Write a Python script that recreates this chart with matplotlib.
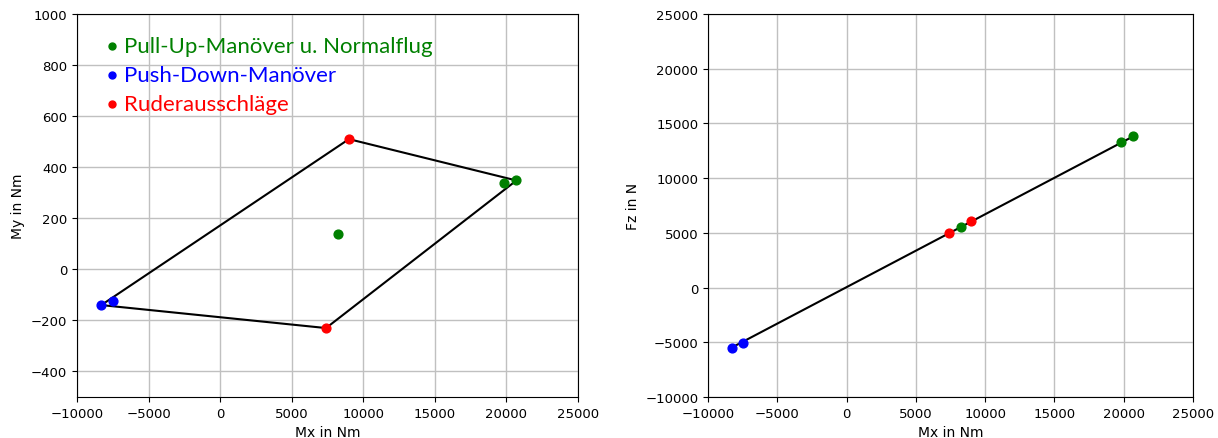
import matplotlib
matplotlib.use('Agg')
import matplotlib.pyplot as plt

# data
# green: pull-up / normal flight
green_mx = [8250, 19800, 20700]
green_my = [140, 338, 348]
green_fz = [5490, 13280, 13830]
# blue: push-down
blue_mx = [-8300, -7500]
blue_my = [-140, -125]
blue_fz = [-5490, -5040]
# red: rudder deflections
red_mx = [7400, 9000]
red_my = [-230, 510]
red_fz = [4950, 6040]

# envelope corners (left plot) and line ends (right plot)
hull_mx = [-8300, 9000, 20700, 7400, -8300]
hull_my = [-140, 510, 348, -230, -140]
line_mx = [-8300, 20700]
line_fz = [-5490, 13830]

legend_labels = ['Pull-Up-Manöver u. Normalflug', 'Push-Down-Manöver', 'Ruderausschläge']
legend_colors = ['green', 'blue', 'red']

fig = plt.figure(figsize=(12.18, 4.39), dpi=100)
ax1 = fig.add_axes([0.0632, 0.0934, 0.4113, 0.8724])
ax2 = fig.add_axes([0.5813, 0.0934, 0.3982, 0.8724])

# left: Mx vs My
ax1.plot(hull_mx, hull_my, color='black', lw=1.5, zorder=2)
ax1.scatter(green_mx, green_my, color='green', s=40, zorder=3)
ax1.scatter(blue_mx, blue_my, color='blue', s=40, zorder=3)
ax1.scatter(red_mx, red_my, color='red', s=40, zorder=3)
ax1.set_xlim(-10000, 25000)
ax1.set_ylim(-500, 1000)
ax1.set_yticks([-400, -200, 0, 200, 400, 600, 800, 1000])
ax1.set_xlabel('Mx in Nm')
ax1.set_ylabel('My in Nm')
ax1.grid(True, color='#c0c0c0', lw=1)
ax1.set_axisbelow(True)

# legend as coloured text lines
for i, (lab, col) in enumerate(zip(legend_labels, legend_colors)):
    yy = 0.916 - i * 0.076
    ax1.plot(0.07, yy, 'o', color=col, ms=5, transform=ax1.transAxes, clip_on=False)
    ax1.text(0.094, yy, lab, color=col, fontsize=16, family='Lato', transform=ax1.transAxes, va='center')

# right: Mx vs Fz
ax2.plot(line_mx, line_fz, color='black', lw=1.5, zorder=2)
ax2.scatter(green_mx, green_fz, color='green', s=40, zorder=3)
ax2.scatter(blue_mx, blue_fz, color='blue', s=40, zorder=3)
ax2.scatter(red_mx, red_fz, color='red', s=40, zorder=3)
ax2.set_xlim(-10000, 25000)
ax2.set_ylim(-10000, 25000)
ax2.set_xlabel('Mx in Nm')
ax2.set_ylabel('Fz in N')
ax2.grid(True, color='#c0c0c0', lw=1)
ax2.set_axisbelow(True)

for ax in (ax1, ax2):
    ax.tick_params(labelsize=9.5)

fig.savefig('out.png', dpi=100)
